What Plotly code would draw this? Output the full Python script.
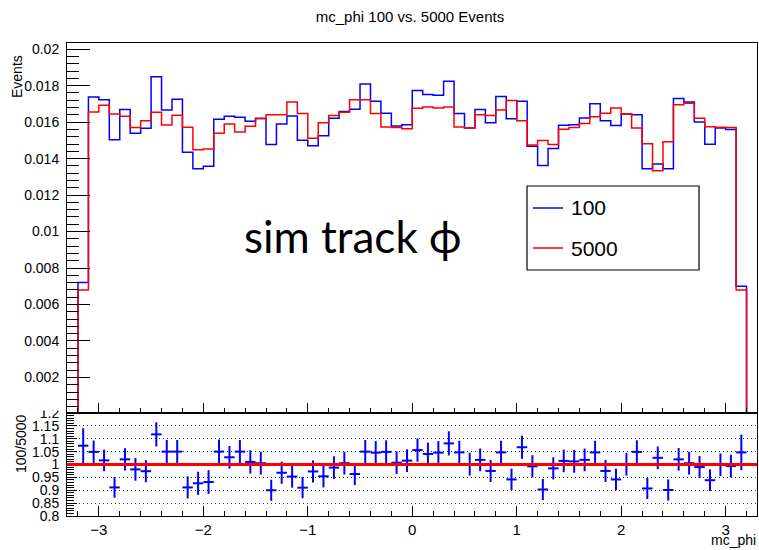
import numpy as np
import plotly.graph_objects as go

# binning of both histograms (64 bins of 0.1 in phi)
BIN_LO, BIN_HI, N_BINS = -3.2, 3.2, 64

# normalised event fractions per bin
events_100 = [
    0.0072, 0.01738, 0.01723, 0.01504, 0.01670, 0.01539, 0.01566, 0.01849,
    0.01667, 0.01725, 0.01435, 0.01345, 0.01358, 0.01616, 0.01632, 0.01627,
    0.01605, 0.01621, 0.01477, 0.01590, 0.01634, 0.01501, 0.01471, 0.01526,
    0.01621, 0.01658, 0.01671, 0.01809, 0.01714, 0.01649, 0.01579, 0.01586,
    0.01773, 0.01751, 0.01747, 0.01824, 0.01647, 0.01568, 0.01669, 0.01597,
    0.01740, 0.01618, 0.01714, 0.01468, 0.01362, 0.01455, 0.01583, 0.01586,
    0.01623, 0.01701, 0.01607, 0.01581, 0.01645, 0.01641, 0.01345, 0.01371,
    0.01345, 0.01729, 0.01711, 0.01601, 0.01479, 0.01568, 0.01559, 0.0070,
]
events_5000 = [
    0.0068, 0.01656, 0.01692, 0.01645, 0.01632, 0.01570, 0.01608, 0.01654,
    0.01585, 0.01638, 0.01572, 0.01449, 0.01453, 0.01539, 0.01590, 0.01546,
    0.01577, 0.01618, 0.01640, 0.01641, 0.01711, 0.01647, 0.01512, 0.01597,
    0.01636, 0.01654, 0.01723, 0.01723, 0.01647, 0.01574, 0.01570, 0.01564,
    0.01676, 0.01683, 0.01678, 0.01683, 0.01574, 0.01568, 0.01640, 0.01636,
    0.01667, 0.01718, 0.01607, 0.01475, 0.01499, 0.01477, 0.01561, 0.01570,
    0.01592, 0.01630, 0.01649, 0.01678, 0.01645, 0.01568, 0.01482, 0.01333,
    0.01492, 0.01696, 0.01704, 0.01621, 0.01575, 0.01572, 0.01570, 0.0068,
]

# ratio 100/5000 with its errors
ratio = [
    1.073, 1.049, 1.016, 0.911, 1.020, 0.981, 0.974, 1.117,
    1.050, 1.050, 0.911, 0.927, 0.932, 1.050, 1.028, 1.050,
    1.010, 1.005, 0.900, 0.968, 0.953, 0.910, 0.973, 0.954,
    0.988, 1.005, 0.963, 1.050, 1.046, 1.049, 1.007, 1.015,
    1.056, 1.041, 1.046, 1.082, 1.047, 1.001, 1.018, 0.975,
    1.047, 0.942, 1.067, 0.993, 0.903, 0.985, 1.014, 1.012,
    1.018, 1.047, 0.975, 0.942, 1.001, 1.049, 0.907, 1.026,
    0.901, 1.020, 1.005, 0.990, 0.939, 0.999, 0.994, 1.047,
]
ratio_err = [
    0.068, 0.044, 0.042, 0.040, 0.043, 0.044, 0.043, 0.047,
    0.045, 0.045, 0.043, 0.045, 0.046, 0.047, 0.044, 0.045,
    0.045, 0.044, 0.041, 0.043, 0.043, 0.041, 0.043, 0.043,
    0.044, 0.044, 0.043, 0.045, 0.045, 0.045, 0.044, 0.044,
    0.045, 0.044, 0.045, 0.047, 0.045, 0.044, 0.044, 0.043,
    0.045, 0.042, 0.045, 0.043, 0.041, 0.043, 0.044, 0.044,
    0.044, 0.045, 0.043, 0.042, 0.044, 0.045, 0.041, 0.044,
    0.041, 0.044, 0.044, 0.043, 0.042, 0.044, 0.044, 0.069,
]

y_ticks = [0.002, 0.004, 0.006, 0.008, 0.01, 0.012, 0.014, 0.016, 0.018, 0.02]
ratio_ticks = [0.8, 0.85, 0.9, 0.95, 1, 1.05, 1.1, 1.15, 1.2]

W, H = 759, 550
L, R, T, B = 67, 2, 43, 34
SPLIT = 413  # pixel row where the ratio pad starts


def px_x(px):
    return (px - L) / (W - L - R)


def px_y(py):
    return (H - B - py) / (H - T - B)


edges = np.linspace(BIN_LO, BIN_HI, N_BINS + 1)
centers = edges[:-1] + (edges[1] - edges[0]) / 2


def step_xy(vals):
    xs = [edges[0]] + list(edges) + [edges[-1]]
    ys = [0] + list(vals) + [vals[-1], 0]
    return xs, ys


FONT = "Liberation Sans, Arial, sans-serif"
fig = go.Figure()

for vals, col in [(events_100, "#0000ff"), (events_5000, "#ff0000")]:
    xs, ys = step_xy(vals)
    fig.add_trace(go.Scatter(
        x=xs, y=ys, mode="lines", line=dict(color=col, width=1.5, shape="hv"),
        xaxis="x", yaxis="y", hoverinfo="skip", showlegend=False,
    ))

fig.add_trace(go.Scatter(
    x=centers, y=ratio, mode="markers",
    marker=dict(color="#0000ff", size=1),
    error_y=dict(type="data", array=ratio_err, color="#0000ff", thickness=2, width=0),
    error_x=dict(type="constant", value=0.05, color="#0000ff", thickness=2, width=0),
    xaxis="x2", yaxis="y2", showlegend=False,
))

split = px_y(SPLIT)
axis_common = dict(showline=True, linecolor="black", linewidth=1, mirror=True,
                   ticks="inside", tickcolor="black", zeroline=False, showgrid=False)
x_range = [-3.305, 3.3]

fig.update_layout(
    width=W, height=H,
    margin=dict(l=L, r=R, t=T, b=B),
    paper_bgcolor="white", plot_bgcolor="white",
    font=dict(family=FONT, color="black", size=14),
    title=dict(text="mc_phi 100 vs. 5000 Events", x=410 / W, xanchor="center",
               y=1 - 17 / H, yanchor="middle", font=dict(size=15)),
    xaxis=dict(**axis_common, range=x_range, domain=[0, 1], anchor="y",
               showticklabels=False, dtick=1, tick0=0, ticklen=10,
               minor=dict(dtick=0.2, tick0=0, ticks="inside", ticklen=5, tickcolor="black")),
    yaxis=dict(**axis_common, range=[0.00005, 0.02034], domain=[split, 1], anchor="x",
               tickvals=y_ticks, ticktext=[f"{v:g}" for v in y_ticks], ticklen=23,
               tickfont=dict(size=14), ticklabelstandoff=4,
               minor=dict(dtick=0.0004, tick0=0, ticks="inside", ticklen=12, tickcolor="black")),
    xaxis2=dict(**axis_common, range=x_range, domain=[0, 1], anchor="y2",
                dtick=1, tick0=0, ticklen=10, tickfont=dict(size=15),
                minor=dict(dtick=0.2, tick0=0, ticks="inside", ticklen=5, tickcolor="black")),
    yaxis2=dict(showline=True, linecolor="black", linewidth=1, mirror=True,
                ticks="inside", tickcolor="black", zeroline=False,
                range=[0.8, 1.2], domain=[0, split], anchor="x2",
                tickvals=ratio_ticks, ticktext=[f"{v:g}" for v in ratio_ticks],
                ticklen=10, tickfont=dict(size=14), ticklabelstandoff=4,
                showgrid=True, gridcolor="#333333", griddash="1px,3px", gridwidth=1,
                minor=dict(dtick=0.01, tick0=0, ticks="inside", ticklen=7,
                           tickcolor="black", showgrid=False)),
)

# reference line at ratio = 1
fig.add_shape(type="line", xref="x2 domain", yref="y2", x0=0, x1=1, y0=1, y1=1,
              line=dict(color="#ff0000", width=3))

# hide top half of the clipped "1.2" label like the overlapping pad does
fig.add_shape(type="rect", xref="paper", yref="paper", x0=px_x(25), x1=px_x(64),
              y0=px_y(410.5), y1=px_y(395), fillcolor="white", line=dict(width=0),
              layer="above")

# legend box drawn by hand
fig.add_shape(type="rect", xref="paper", yref="paper", x0=px_x(527), x1=px_x(699),
              y0=px_y(270), y1=px_y(186), line=dict(color="black", width=1.2),
              fillcolor="white", layer="above")
for yy, col, lab in [(208, "#0000ff", "100"), (248, "#ff0000", "5000")]:
    fig.add_shape(type="line", xref="paper", yref="paper", x0=px_x(533), x1=px_x(563),
                  y0=px_y(yy), y1=px_y(yy), line=dict(color=col, width=1.5), layer="above")
    fig.add_annotation(text=lab, xref="paper", yref="paper", x=px_x(569), y=px_y(yy),
                       xanchor="left", yanchor="middle", showarrow=False,
                       font=dict(size=21))

fig.add_annotation(text="sim track ϕ", xref="paper", yref="paper",
                   x=px_x(352), y=px_y(236), xanchor="center", yanchor="middle",
                   showarrow=False, font=dict(family="Lato, Open Sans, sans-serif", size=44))
fig.add_annotation(text="Events", xref="paper", yref="paper", x=px_x(17), y=px_y(77),
                   xanchor="center", yanchor="middle", textangle=-90, showarrow=False,
                   font=dict(size=14))
fig.add_annotation(text="100/5000", xref="paper", yref="paper", x=px_x(21), y=px_y(444),
                   xanchor="center", yanchor="middle", textangle=-90, showarrow=False,
                   font=dict(size=14))
fig.add_annotation(text="mc_phi", xref="paper", yref="paper", x=px_x(758), y=px_y(540),
                   xanchor="right", yanchor="middle", showarrow=False,
                   font=dict(size=14))

# drop the default body margin so the figure sits at the page corner
fig.write_html("out.html", config={"displayModeBar": False},
               post_script="document.body.style.margin='0';")
